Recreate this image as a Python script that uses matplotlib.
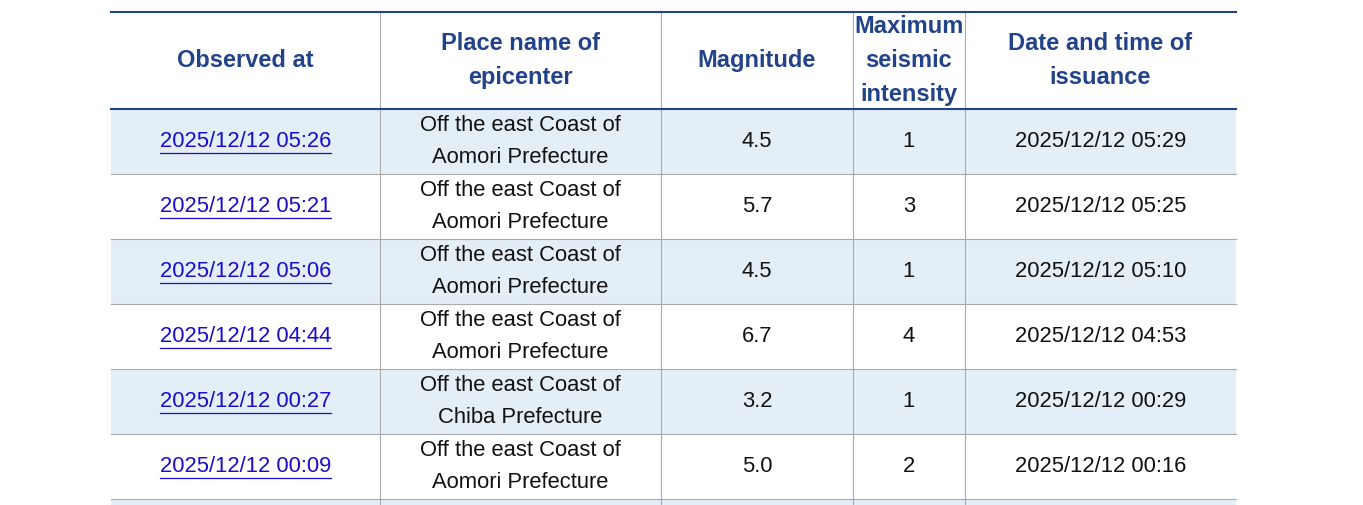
import matplotlib.pyplot as plt
from matplotlib.patches import Rectangle

headers = ["Observed at", "Place name of\nepicenter", "Magnitude",
           "Maximum\nseismic\nintensity", "Date and time of\nissuance"]
observed = ["2025/12/12 05:26", "2025/12/12 05:21", "2025/12/12 05:06",
            "2025/12/12 04:44", "2025/12/12 00:27", "2025/12/12 00:09"]
places = ["Off the east Coast of\nAomori Prefecture",
          "Off the east Coast of\nAomori Prefecture",
          "Off the east Coast of\nAomori Prefecture",
          "Off the east Coast of\nAomori Prefecture",
          "Off the east Coast of\nChiba Prefecture",
          "Off the east Coast of\nAomori Prefecture"]
magnitudes = ["4.5", "5.7", "4.5", "6.7", "3.2", "5.0"]
intensities = ["1", "3", "1", "4", "1", "2"]
issued = ["2025/12/12 05:29", "2025/12/12 05:25", "2025/12/12 05:10",
          "2025/12/12 04:53", "2025/12/12 00:29", "2025/12/12 00:16"]

COL_X = [111, 380, 661, 853, 965, 1236]
HEAD_TOP, HEAD_BOT, ROW_H = 12, 109, 65
NAVY = "#22428a"
GRID = "#aaaaaa"
STRIPE = "#e4eef7"
LINK = "#1a0dcc"
FONT = "Liberation Sans"

fig = plt.figure(figsize=(13.63, 5.05), dpi=100, facecolor="white")
ax = fig.add_axes([0, 0, 1, 1])
ax.set_xlim(0, 1363)
ax.set_ylim(505, 0)
ax.set_axis_off()

n_rows = len(observed) + 1  # one partly visible row at the bottom
for i in range(n_rows):
    y0 = HEAD_BOT + i * ROW_H
    if i % 2 == 0:
        ax.add_patch(Rectangle((COL_X[0], y0), COL_X[-1] - COL_X[0], ROW_H,
                               facecolor=STRIPE, edgecolor="none", zorder=1))
    ax.plot([COL_X[0], COL_X[-1]], [y0 + ROW_H] * 2, color=GRID, lw=0.8, zorder=2)

for x in COL_X[1:-1]:
    ax.plot([x, x], [HEAD_TOP, 505], color=GRID, lw=0.8, zorder=2)

ax.plot([COL_X[0], COL_X[-1]], [HEAD_TOP] * 2, color=NAVY, lw=1.5, zorder=3)
ax.plot([COL_X[0], COL_X[-1]], [HEAD_BOT] * 2, color=NAVY, lw=1.5, zorder=3)

centers = [(a + b) / 2 for a, b in zip(COL_X[:-1], COL_X[1:])]
for cx, h in zip(centers, headers):
    ax.text(cx, (HEAD_TOP + HEAD_BOT) / 2, h, ha="center", va="center",
            color=NAVY, fontsize=17, fontweight="bold", family=FONT,
            linespacing=1.6, zorder=4)

for i in range(len(observed)):
    cy = HEAD_BOT + i * ROW_H + ROW_H / 2
    row = [observed[i], places[i], magnitudes[i], intensities[i], issued[i]]
    for j, (cx, val) in enumerate(zip(centers, row)):
        if j == 0:
            ax.text(cx, cy, val, ha="center", va="center", color=LINK,
                    fontsize=15.8, family=FONT, zorder=4)
            w = 171
            ax.plot([cx - w / 2, cx + w / 2], [cy + 11] * 2, color=LINK,
                    lw=0.9, zorder=4)
        else:
            ax.text(cx, cy, val, ha="center", va="center", color="#111111",
                    fontsize=15.8, family=FONT, linespacing=1.7, zorder=4)

fig.savefig("out.png", dpi=100, facecolor="white")
